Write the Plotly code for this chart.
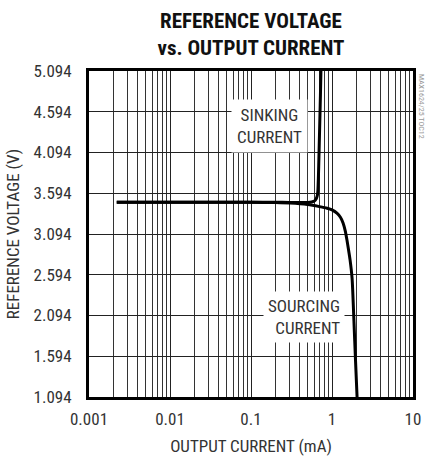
import plotly.graph_objects as go

# Data (mA, V)
sink_current = [0.0022, 0.01, 0.05, 0.1, 0.2, 0.3, 0.4, 0.5, 0.56, 0.61, 0.64, 0.66, 0.67, 0.68, 0.69, 0.70, 0.71, 0.72, 0.73]
sink_voltage = [3.484, 3.484, 3.484, 3.484, 3.483, 3.482, 3.481, 3.482, 3.487, 3.50, 3.53, 3.57, 3.63, 3.80, 4.05, 4.30, 4.55, 4.80, 5.094]

source_current = [0.0022, 0.01, 0.05, 0.1, 0.2, 0.3, 0.5, 0.7, 0.87, 1.0, 1.15, 1.27, 1.37, 1.46, 1.53, 1.60, 1.67, 1.77, 1.87, 1.95, 2.04]
source_voltage = [3.484, 3.484, 3.484, 3.483, 3.479, 3.473, 3.455, 3.43, 3.41, 3.39, 3.35, 3.30, 3.23, 3.13, 3.02, 2.90, 2.78, 2.55, 2.00, 1.55, 1.094]

y_ticks = [1.094, 1.594, 2.094, 2.594, 3.094, 3.594, 4.094, 4.594, 5.094]
x_ticks = [0.001, 0.01, 0.1, 1, 10]
x_tick_labels = ["0.001", "0.01", "0.1", "1", "10"]

FONT = "Liberation Sans Narrow, Arial Narrow, Roboto Condensed, Liberation Sans, sans-serif"

fig = go.Figure()
fig.add_trace(go.Scatter(x=sink_current, y=sink_voltage, mode="lines", hoverinfo="skip",
                         line=dict(color="black", width=3, shape="spline", smoothing=0.6)))
fig.add_trace(go.Scatter(x=source_current, y=source_voltage, mode="lines", hoverinfo="skip",
                         line=dict(color="black", width=3, shape="spline", smoothing=0.6)))

fig.update_layout(
    width=425, height=457,
    margin=dict(l=89, r=12, t=71, b=60, autoexpand=False),
    paper_bgcolor="white", plot_bgcolor="white",
    showlegend=False,
    font=dict(family=FONT, size=17, color="#333"),
    title=dict(text="<b>REFERENCE VOLTAGE<br>vs. OUTPUT CURRENT</b>",
               xref="paper", x=0.5, xanchor="center", y=0.9387, yanchor="middle",
               automargin=False,
               font=dict(family=FONT, size=21, color="#111")),
)

fig.update_xaxes(
    type="log", range=[-3, 1], automargin=False,
    tickvals=x_ticks, ticktext=x_tick_labels,
    showgrid=True, gridcolor="#222", gridwidth=1,
    minor=dict(dtick="D1", showgrid=True, gridcolor="#333", gridwidth=1, ticks=""),
    showline=True, linecolor="black", linewidth=3, mirror=True,
    ticks="", zeroline=False, ticklabelstandoff=5,
    title=dict(text="OUTPUT CURRENT (mA)", standoff=12, font=dict(size=17, color="#333")),
    tickfont=dict(size=17, color="#333"),
)
fig.update_yaxes(
    range=[1.094, 5.094], automargin=False,
    tickvals=y_ticks, ticktext=[f"{v:.3f}" for v in y_ticks],
    showgrid=True, gridcolor="#222", gridwidth=1,
    showline=True, linecolor="black", linewidth=3, mirror=True,
    ticks="", zeroline=False, ticklabelstandoff=11,
    title=dict(text="REFERENCE VOLTAGE (V)", standoff=10, font=dict(size=17, color="#333")),
    tickfont=dict(size=17, color="#333"),
)

fig.add_annotation(x=-0.775, y=4.425, xref="x", yref="y",
                   text="SINKING<br>CURRENT", showarrow=False,
                   bgcolor="white", borderpad=5, align="center",
                   font=dict(family=FONT, size=17, color="#333"))
fig.add_annotation(x=-0.346, y=2.076, xref="x", yref="y",
                   text="SOURCING<br>CURRENT", showarrow=False,
                   bgcolor="white", borderpad=4, align="right",
                   font=dict(family=FONT, size=17, color="#333"))
fig.add_annotation(x=1.0247, y=0.893, xref="paper", yref="paper",
                   xanchor="center", yanchor="middle",
                   text="MAX1624/25 TOC12", showarrow=False, textangle=90,
                   font=dict(family=FONT, size=8, color="#999"))

fig.write_html("out.html", config={"displayModeBar": False},
               post_script="document.body.style.margin='0';")
